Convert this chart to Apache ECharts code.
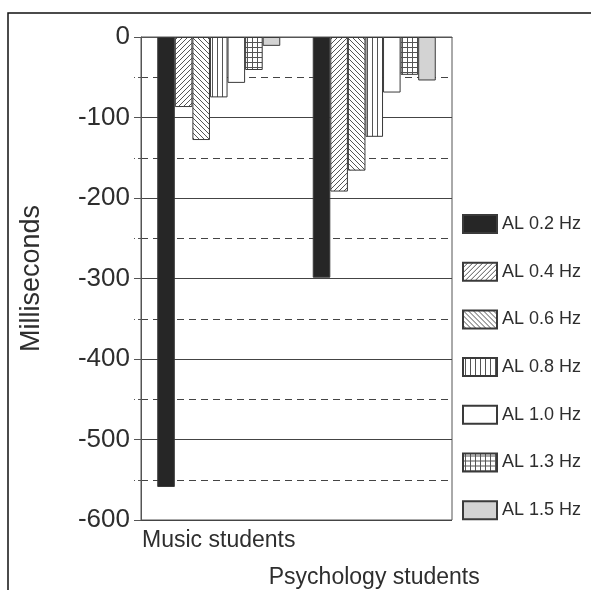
<!DOCTYPE html>
<html>
<head>
<meta charset="utf-8">
<script src="https://cdn.jsdelivr.net/npm/echarts@6/dist/echarts.min.js"></script>
<style>
html,body{margin:0;padding:0;background:#fff;}
#chart{width:591px;height:590px;}
</style>
</head>
<body>
<div id="chart"></div>
<script>
// ---- data ----
const categories = ['Music students', 'Psychology students'];
const seriesNames = ['AL 0.2 Hz', 'AL 0.4 Hz', 'AL 0.6 Hz', 'AL 0.8 Hz', 'AL 1.0 Hz', 'AL 1.3 Hz', 'AL 1.5 Hz'];
const al02 = [-559, -299];
const al04 = [-87, -192];
const al06 = [-128, -166];
const al08 = [-75, -124];
const al10 = [-57, -69];
const al13 = [-41, -47];
const al15 = [-11, -54];
const yTicks = { min: -600, max: 0, major: 100, minor: 50 };

// ---- patterns ----
function tile(size, draw) {
  const c = document.createElement('canvas');
  c.width = size; c.height = size;
  const ctx = c.getContext('2d');
  ctx.fillStyle = '#fff';
  ctx.fillRect(0, 0, size, size);
  ctx.strokeStyle = '#555';
  ctx.lineWidth = 1;
  draw(ctx, size);
  return { image: c, repeat: 'repeat' };
}
function line(ctx, x1, y1, x2, y2) { ctx.beginPath(); ctx.moveTo(x1, y1); ctx.lineTo(x2, y2); ctx.stroke(); }
const patSlash = tile(5, (ctx, s) => { line(ctx, -1, s + 1, s + 1, -1); line(ctx, -2, 2, 2, -2); line(ctx, s - 2, s + 2, s + 2, s - 2); });
const patBack = tile(5, (ctx, s) => { line(ctx, -1, -1, s + 1, s + 1); line(ctx, -2, s - 2, 2, s + 2); line(ctx, s - 2, -2, s + 2, 2); });
const patVert = tile(5, (ctx, s) => { line(ctx, 2.5, 0, 2.5, s); });
const patGrid = tile(5, (ctx, s) => { line(ctx, 2.5, 0, 2.5, s); line(ctx, 0, 2.5, s, 2.5); });

const fills = ['#262626', patSlash, patBack, patVert, '#ffffff', patGrid, '#d3d3d3'];
const values = [al02, al04, al06, al08, al10, al13, al15];

const chart = echarts.init(document.getElementById('chart'));
const txt = '#2e2e2e';
const font = 'Liberation Sans, Arial, Helvetica, sans-serif';

const option = {
  animation: false,
  backgroundColor: '#fff',
  textStyle: { fontFamily: font },
  graphic: [{
    type: 'rect', silent: true, z: 100,
    shape: { x: 8, y: 13, width: 700, height: 700 },
    style: { fill: 'none', stroke: '#111', lineWidth: 1.5 }
  }],
  legend: {
    orient: 'vertical', left: 457, top: 209,
    icon: 'rect',
    itemWidth: 34, itemHeight: 18, itemGap: 27.7,
    data: seriesNames,
    textStyle: { color: txt, fontSize: 18, fontFamily: font },
    selectedMode: false
  },
  grid: { left: 141, right: 139, top: 37, bottom: 70, show: true, borderColor: '#555', borderWidth: 1, backgroundColor: 'transparent', containLabel: false, outerBoundsMode: 'none' },
  xAxis: {
    type: 'category', data: categories,
    axisLine: { lineStyle: { color: '#555', width: 1 } },
    axisTick: { alignWithLabel: true, length: 5, lineStyle: { color: '#555' } },
    axisLabel: {
      interval: 0, color: txt, fontSize: 23, fontFamily: font, margin: 2, lineHeight: 37,
      formatter: (v, i) => i === 1 ? '\n' + v : v
    }
  },
  yAxis: [{
    type: 'value', min: yTicks.min, max: yTicks.max, interval: yTicks.major, position: 'left',
    name: 'Milliseconds', nameLocation: 'middle', nameGap: 96,
    nameTextStyle: { color: txt, fontSize: 27, fontFamily: font },
    axisLine: { show: true, lineStyle: { color: '#555', width: 1 } },
    axisTick: { show: true, length: 7, lineStyle: { color: '#555' } },
    axisLabel: { color: txt, fontSize: 26, fontFamily: font, margin: 11 },
    splitLine: { show: true, lineStyle: { color: '#444', width: 1.2, type: 'solid' } }
  }, {
    type: 'value', min: yTicks.min, max: yTicks.max, interval: yTicks.minor, position: 'left', offset: 0,
    axisLine: { show: false },
    axisTick: { show: true, length: 7, lineStyle: { color: '#555', type: [3, 3] } },
    axisLabel: { show: false },
    splitLine: { show: true, lineStyle: { color: '#444', width: 1.2, type: [7, 5] } }
  }],
  series: seriesNames.map((n, k) => ({
    name: n, type: 'bar', data: values[k], yAxisIndex: 0,
    barGap: '0%', barCategoryGap: '20.9%',
    itemStyle: { color: fills[k], borderColor: '#3a3a3a', borderWidth: 1 }
  }))
};
chart.setOption(option);
</script>
</body>
</html>
